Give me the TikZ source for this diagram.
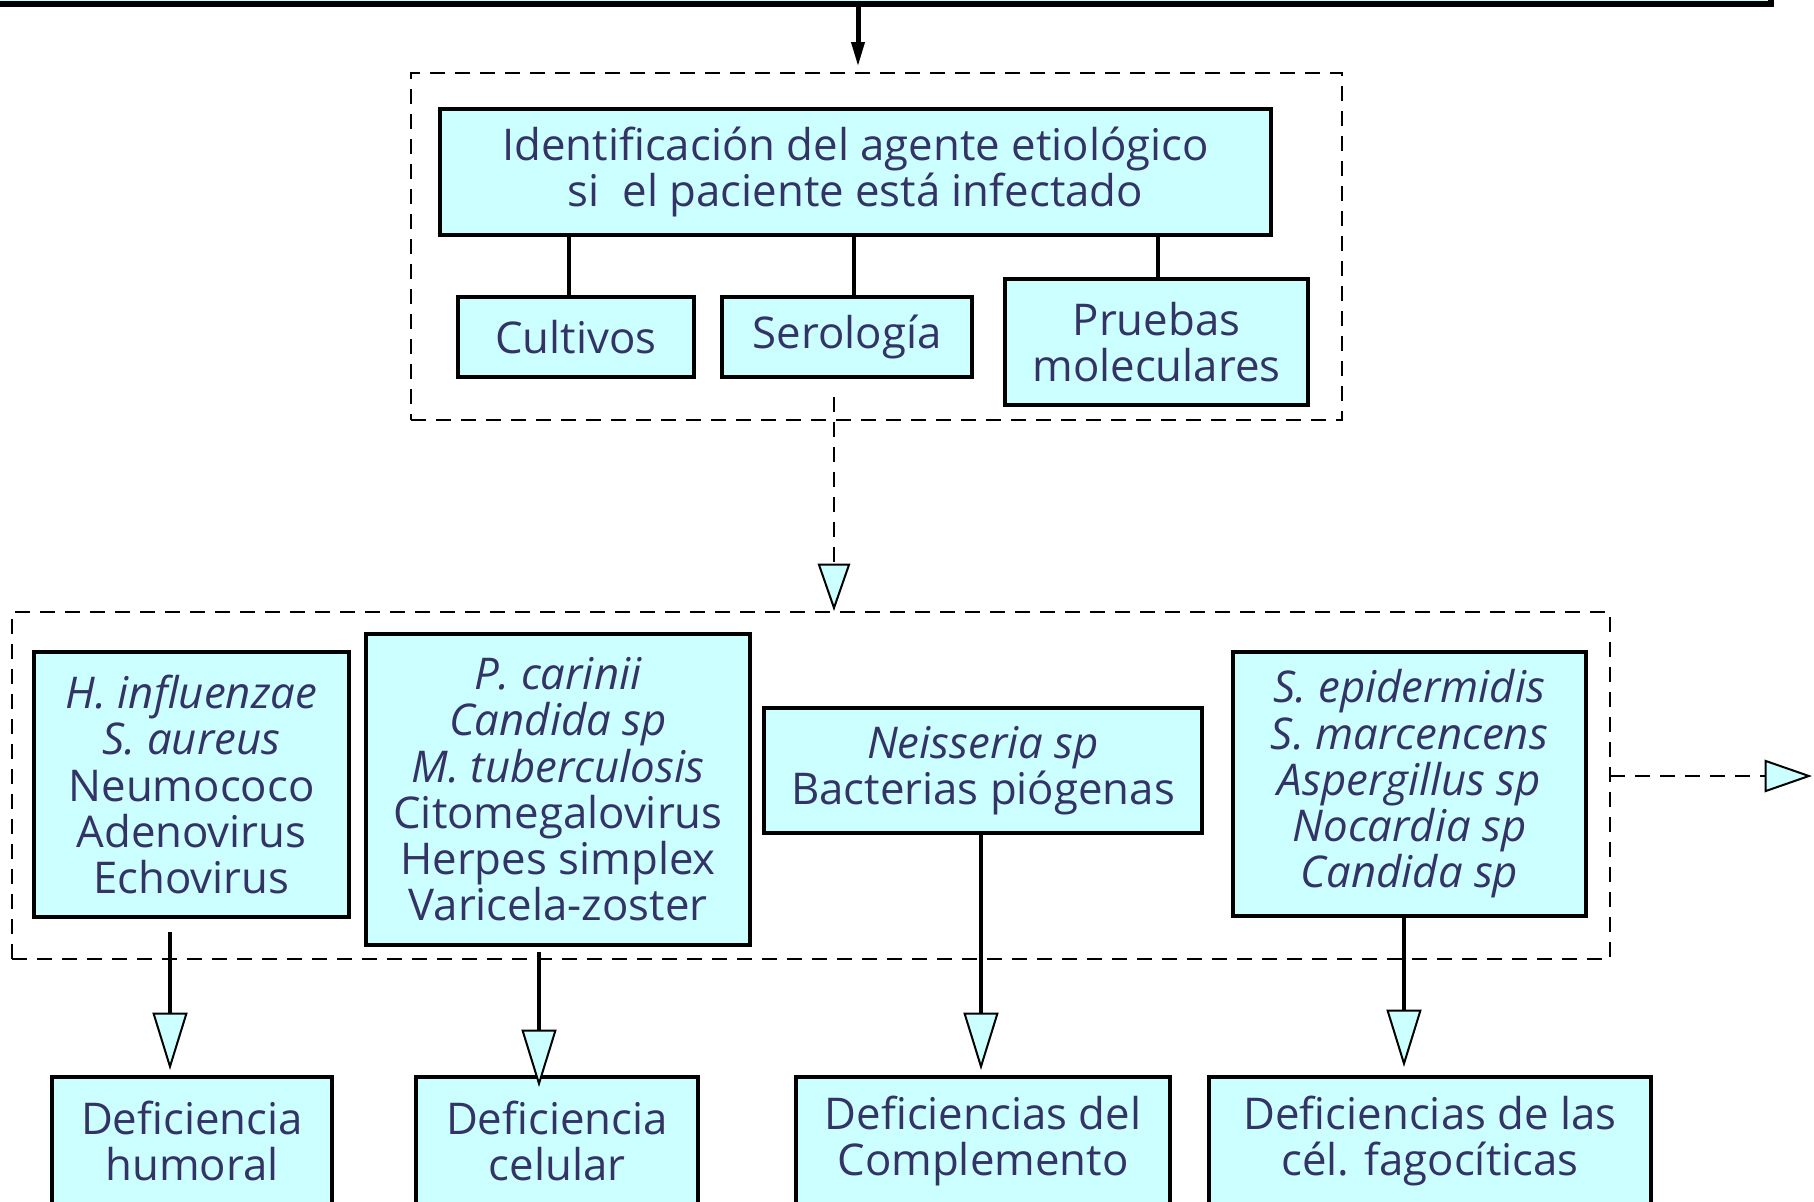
\documentclass[tikz,border=0pt]{standalone}
\usepackage{fontspec}
\setmainfont{Open Sans}
\usetikzlibrary{arrows.meta}
\definecolor{boxfill}{HTML}{CCFFFF}
\definecolor{txt}{HTML}{333366}
\begin{document}
\begin{tikzpicture}[x=0.4pt,y=-0.4pt,
 sz/.style 2 args={minimum width={#1*0.4pt},minimum height={#2*0.4pt}},
 box/.style={draw=black,line width=1.7pt,fill=boxfill,inner sep=0pt,align=center,text=txt,font=\fontsize{17.5}{18.5}\selectfont},
 group/.style={draw=black,line width=0.8pt,dash pattern=on 6pt off 4pt,inner sep=0pt},
 conn/.style={line width=1.3pt},
 blackarr/.style={line width=2pt,-{Triangle[length=10pt,width=5pt]}},
 hollow/.style={line width=1.3pt,-{Triangle[length=23pt,width=14pt,fill=boxfill,line width=0.8pt]}},
 dhollow/.style={line width=0.8pt,dash pattern=on 6pt off 4pt,-{Triangle[length=19pt,width=13pt,fill=boxfill,line width=0.8pt,sep=0pt]}}
]
\useasboundingbox (0,0) rectangle (1814,1201);
\clip (0,0) rectangle (1814,1201);

% top (cut off) box
\node[box,line width=2.2pt,sz={1791}{44}] (top) at (875.5,-18) {};

% group 1
\node[group,sz={931}{347}] (g1) at (876.5,246.5) {};
\node[box,sz={831}{126}] (ident) at (855.5,172) {Identificación del agente etiológico\\si\ \ el paciente está infectado};
\node[box,sz={236}{80}] (cult) at (576,337) {Cultivos};
\node[box,sz={250}{80}] (sero) at (847,337) {Serología};
\node[box,sz={303}{126}] (mol) at (1156.5,342) {Pruebas\\moleculares};

% group 2
\node[group,sz={1598}{347}] (g2) at (811,785.5) {};
\node[box,sz={315}{265}] (hum) at (191.5,784.5) {\textit{H. influenzae}\\\textit{S. aureus}\\Neumococo\\Adenovirus\\Echovirus};
\node[box,sz={384}{311}] (cel) at (558,789.5) {\textit{P. carinii}\\\textit{Candida sp}\\\textit{M. tuberculosis}\\Citomegalovirus\\Herpes simplex\\Varicela-zoster};
\node[box,sz={438}{125}] (comp) at (983,770.5) {\textit{Neisseria sp}\\Bacterias piógenas};
\node[box,sz={353}{264}] (fag) at (1409.5,784) {\textit{S. epidermidis}\\\textit{S. marcencens}\\\textit{Aspergillus sp}\\\textit{Nocardia sp}\\\textit{Candida sp}};

% bottom boxes
\node[box,sz={280}{128}] (dh) at (192,1141) {Deficiencia\\humoral};
\node[box,sz={282}{128}] (dc) at (557,1141) {Deficiencia\\celular};
\node[box,sz={374}{128}] (dco) at (983,1141) {Deficiencias del\\Complemento};
\node[box,sz={442}{128}] (df) at (1430,1141) {Deficiencias de las\\cél. fagocíticas};

% connector coordinates
\coordinate (t0) at (858,4);
\coordinate (t1) at (858,67);
\coordinate (i1) at (569,235); \coordinate (c1) at (569,297);
\coordinate (i2) at (854,235); \coordinate (c2) at (854,297);
\coordinate (i3) at (1158,235); \coordinate (c3) at (1158,279);
\coordinate (s0) at (834,397); \coordinate (s1) at (834,611);
\coordinate (r0) at (1610,776); \coordinate (r1) at (1812,776);
\coordinate (h0) at (170,932); \coordinate (h1) at (170,1070);
\coordinate (e0) at (539,952); \coordinate (e1) at (539,1087);
\coordinate (o0) at (981,833); \coordinate (o1) at (981,1070);
\coordinate (f0) at (1404,914); \coordinate (f1) at (1404,1067);

\draw[blackarr] (t0) -- (t1);
\draw[conn] (i1) -- (c1);
\draw[conn] (i2) -- (c2);
\draw[conn] (i3) -- (c3);
\draw[dhollow] (s0) -- (s1);
\draw[dhollow] (r0) -- (r1);
\draw[hollow] (h0) -- (h1);
\draw[hollow] (e0) -- (e1);
\draw[hollow] (o0) -- (o1);
\draw[hollow] (f0) -- (f1);
\end{tikzpicture}
\end{document}
